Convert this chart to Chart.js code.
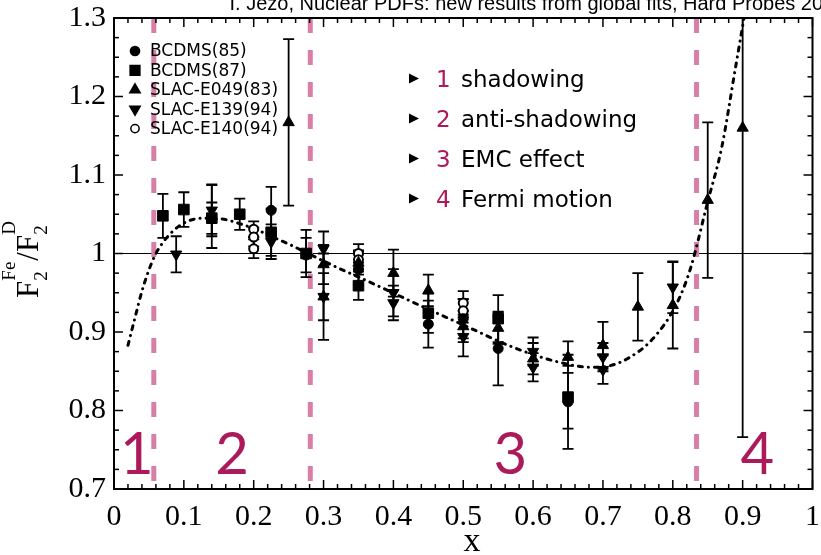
<!DOCTYPE html>
<html>
<head>
<meta charset="utf-8">
<script src="https://cdn.jsdelivr.net/npm/chart.js@4.4.1/dist/chart.umd.min.js"></script>
<style>
  html, body { margin: 0; padding: 0; background: #fff; }
  canvas { display: block; }
</style>
</head>
<body>
<canvas id="chart" width="821" height="555"></canvas>
<script>
// Iron / deuterium structure function ratio F2(Fe)/F2(D) versus x

// BCDMS (1985)
const bcdms85X   = [0.225, 0.275, 0.35, 0.45, 0.50, 0.55, 0.65];
const bcdms85Y   = [1.055, 0.998, 0.980, 0.910, 0.917, 0.879, 0.811];
const bcdms85Err = [0.030, 0.022, 0.020, 0.030, 0.025, 0.047, 0.060];

// BCDMS (1987)
const bcdms87X   = [0.07, 0.10, 0.14, 0.18, 0.225, 0.275, 0.35, 0.45, 0.55, 0.65];
const bcdms87Y   = [1.048, 1.056, 1.045, 1.050, 1.027, 1.000, 0.959, 0.924, 0.917, 0.817];
const bcdms87Err = [0.028, 0.022, 0.020, 0.020, 0.030, 0.030, 0.018, 0.025, 0.030, 0.040];

// SLAC E049 (1983)
const e049X   = [0.14, 0.25, 0.30, 0.30, 0.35, 0.40, 0.45, 0.50, 0.55, 0.60, 0.65, 0.70, 0.75, 0.80, 0.85, 0.90];
const e049Y   = [1.047, 1.167, 0.986, 0.945, 0.988, 0.975, 0.953, 0.907, 0.905, 0.866, 0.868, 0.883, 0.932, 0.934, 1.068, 1.160];
const e049Err = [0.040, 0.106, 0.025, 0.055, 0.015, 0.030, 0.020, 0.020, 0.020, 0.020, 0.020, 0.030, 0.043, 0.055, 0.099, 0.394];

// SLAC E139 (1994)
const e139X   = [0.089, 0.14, 0.225, 0.30, 0.30, 0.40, 0.40, 0.50, 0.60, 0.60, 0.70, 0.70, 0.80];
const e139Y   = [0.999, 1.055, 1.015, 1.006, 0.945, 0.950, 0.937, 0.894, 0.875, 0.855, 0.868, 0.852, 0.957];
const e139Err = [0.023, 0.033, 0.022, 0.022, 0.030, 0.030, 0.022, 0.025, 0.018, 0.018, 0.018, 0.018, 0.033];

// SLAC E140 (1994)
const e140X   = [0.20, 0.20, 0.20, 0.35, 0.35, 0.50, 0.50];
const e140Y   = [1.031, 1.021, 1.006, 1.000, 0.992, 0.937, 0.927];
const e140Err = [0.010, 0.012, 0.012, 0.012, 0.012, 0.015, 0.015];

// Fitted nuclear modification curve
const fitX = [0.020, 0.030, 0.040, 0.050, 0.060, 0.070, 0.085, 0.105, 0.130, 0.155, 0.180, 0.205, 0.230, 0.255, 0.280,
              0.320, 0.370, 0.440, 0.510, 0.570, 0.635, 0.685, 0.710, 0.735, 0.770, 0.805, 0.825, 0.850, 0.870, 0.890, 0.902];
const fitY = [0.883, 0.918, 0.952, 0.979, 1.000, 1.014, 1.029, 1.041, 1.045, 1.044, 1.038, 1.030, 1.020, 1.010, 0.999,
              0.982, 0.962, 0.933, 0.905, 0.881, 0.862, 0.855, 0.857, 0.866, 0.890, 0.935, 0.980, 1.066, 1.135, 1.238, 1.300];

// Boundaries between the x regions and their labels
const regionBounds = [0.057, 0.281, 0.834];
const regionLabels = ['1', '2', '3', '4'];
const effectNames  = ['shadowing', 'anti-shadowing', 'EMC effect', 'Fermi motion'];
const experimentNames = ['BCDMS(85)', 'BCDMS(87)', 'SLAC-E049(83)', 'SLAC-E139(94)', 'SLAC-E140(94)'];

const xTickValues = [0, 0.1, 0.2, 0.3, 0.4, 0.5, 0.6, 0.7, 0.8, 0.9, 1];
const yTickValues = [0.7, 0.8, 0.9, 1.0, 1.1, 1.2, 1.3];

const titleLead = 'I. Ježo, Nuclear PDFs: new results from global fits, ';
const titleTail = 'Hard Probes 20';

const MAGENTA = '#ad1a5c';
const PINK = '#d87ea7';

const markerStyles = [
  { pointStyle: 'circle',   radius: 5,   rotation: 0,   fill: '#000', bw: 1 },
  { pointStyle: 'rect',     radius: 7.5, rotation: 0,   fill: '#000', bw: 1 },
  { pointStyle: 'triangle', radius: 6.5, rotation: 0,   fill: '#000', bw: 1 },
  { pointStyle: 'triangle', radius: 6.5, rotation: 180, fill: '#000', bw: 1 },
  { pointStyle: 'circle',   radius: 4.5, rotation: 0,   fill: '#fff', bw: 2 }
];

const series = [
  [bcdms85X, bcdms85Y, bcdms85Err],
  [bcdms87X, bcdms87Y, bcdms87Err],
  [e049X, e049Y, e049Err],
  [e139X, e139Y, e139Err],
  [e140X, e140Y, e140Err]
];

const pts = (xs, ys) => xs.map((x, i) => ({ x: x, y: ys[i] }));

const datasets = series.map((s, k) => ({
  type: 'scatter',
  label: experimentNames[k],
  data: pts(s[0], s[1]),
  errors: s[2],
  pointStyle: markerStyles[k].pointStyle,
  pointRadius: markerStyles[k].radius,
  pointRotation: markerStyles[k].rotation,
  pointBackgroundColor: markerStyles[k].fill,
  pointBorderColor: '#000',
  pointBorderWidth: markerStyles[k].bw,
  order: 1
}));

datasets.push({
  type: 'line',
  label: 'fit',
  data: pts(fitX, fitY),
  borderColor: '#000',
  borderWidth: 3,
  borderDash: [4, 6, 0.1, 6],
  borderCapStyle: 'round',
  pointRadius: 0,
  cubicInterpolationMode: 'monotone',
  fill: false,
  order: 2
});

function line(ctx, x1, y1, x2, y2) {
  ctx.beginPath(); ctx.moveTo(x1, y1); ctx.lineTo(x2, y2); ctx.stroke();
}

// F_2^Fe / F_2^D written bottom-to-top with sub- and superscripts
function drawYTitle(ctx, cx, cy) {
  const big = '31px "Liberation Serif"';
  const small = '19px "Liberation Serif"';
  const pieces = [
    { main: 'F' }, { sub: '2', sup: 'Fe' }, { main: '/F' }, { sub: '2', sup: 'D' }
  ];
  const widths = pieces.map(p => {
    if (p.main) { ctx.font = big; return ctx.measureText(p.main).width; }
    ctx.font = small;
    return Math.max(ctx.measureText(p.sub).width, ctx.measureText(p.sup).width) + 1;
  });
  const total = widths.reduce((a, b) => a + b, 0);
  ctx.save();
  ctx.translate(cx, cy);
  ctx.rotate(-Math.PI / 2);
  ctx.fillStyle = '#000';
  ctx.textAlign = 'left';
  ctx.textBaseline = 'alphabetic';
  let x = -total / 2;
  pieces.forEach((p, i) => {
    if (p.main) { ctx.font = big; ctx.fillText(p.main, x, 0); }
    else {
      ctx.font = small;
      ctx.fillText(p.sub, x, 9);
      ctx.fillText(p.sup, x, -23);
    }
    x += widths[i];
  });
  ctx.restore();
}

const decor = {
  id: 'decor',
  beforeDatasetsDraw(chart) {
    const { ctx, chartArea: ca, scales } = chart;
    const xs = scales.x, ys = scales.y;
    ctx.save();
    ctx.beginPath(); ctx.rect(ca.left, ca.top, ca.right - ca.left, ca.bottom - ca.top); ctx.clip();
    // unity reference line
    ctx.strokeStyle = '#000'; ctx.lineWidth = 1.2;
    const y1 = ys.getPixelForValue(1);
    line(ctx, ca.left, y1, ca.right, y1);
    // region boundaries
    ctx.strokeStyle = PINK; ctx.lineWidth = 5; ctx.setLineDash([15, 17]);
    regionBounds.forEach(b => {
      const px = xs.getPixelForValue(b);
      line(ctx, px, ca.top, px, ca.bottom);
    });
    ctx.setLineDash([]);
    // error bars
    ctx.strokeStyle = '#000'; ctx.lineWidth = 1.8;
    chart.data.datasets.forEach(ds => {
      if (!ds.errors) return;
      ds.data.forEach((p, i) => {
        const e = ds.errors[i];
        const px = xs.getPixelForValue(p.x);
        const hi = ys.getPixelForValue(p.y + e);
        const lo = ys.getPixelForValue(p.y - e);
        line(ctx, px, hi, px, lo);
        line(ctx, px - 5.5, hi, px + 5.5, hi);
        line(ctx, px - 5.5, lo, px + 5.5, lo);
      });
    });
    ctx.restore();
  },
  afterDatasetsDraw(chart) {
    const { ctx, chartArea: ca, scales } = chart;
    const xs = scales.x, ys = scales.y;
    ctx.save();
    // frame
    ctx.strokeStyle = '#000'; ctx.lineWidth = 2;
    ctx.strokeRect(ca.left, ca.top, ca.right - ca.left, ca.bottom - ca.top);
    // inward ticks
    ctx.lineWidth = 1.5;
    for (let k = 0; k <= 50; k++) {
      const px = xs.getPixelForValue(k * 0.02);
      const len = k % 5 === 0 ? 9 : 5;
      line(ctx, px, ca.bottom, px, ca.bottom - len);
      line(ctx, px, ca.top, px, ca.top + len);
    }
    for (let k = 0; k <= 24; k++) {
      const py = ys.getPixelForValue(0.7 + k * 0.025);
      const len = k % 4 === 0 ? 9 : 5;
      line(ctx, ca.left, py, ca.left + len, py);
      line(ctx, ca.right, py, ca.right - len, py);
    }
    // experiment key
    ctx.font = '17px "DejaVu Sans"';
    ctx.textBaseline = 'middle';
    ctx.textAlign = 'left';
    experimentNames.forEach((name, k) => {
      const y = 51 + k * 19.4;
      const m = markerStyles[k];
      ctx.fillStyle = m.fill; ctx.strokeStyle = '#000';
      Chart.helpers.drawPoint(ctx, { pointStyle: m.pointStyle, rotation: m.rotation,
        radius: m.radius * 0.92, borderWidth: m.bw }, 135, y);
      ctx.fillStyle = '#000';
      ctx.fillText(name, 150, y + 1);
    });
    // physics effects list
    ctx.textBaseline = 'alphabetic';
    effectNames.forEach((name, k) => {
      const base = 87 + k * 40;
      ctx.fillStyle = '#000';
      ctx.beginPath();
      ctx.moveTo(409, base - 13.5); ctx.lineTo(419, base - 8.5); ctx.lineTo(409, base - 3.5); ctx.closePath();
      ctx.fill();
      ctx.font = '23px "DejaVu Sans"';
      ctx.fillStyle = MAGENTA;
      ctx.fillText(regionLabels[k], 436, base);
      ctx.fillStyle = '#000';
      ctx.fillText(name, 461, base);
    });
    // region numbers
    const regionCentres = [
      (0 + regionBounds[0]) / 2 + 0.004,
      (regionBounds[0] + regionBounds[1]) / 2,
      (regionBounds[1] + regionBounds[2]) / 2 + 0.01,
      (regionBounds[2] + 1) / 2 + 0.004
    ];
    ctx.font = '58px "Lato"';
    ctx.fillStyle = MAGENTA;
    ctx.textAlign = 'center';
    regionLabels.forEach((lab, k) => {
      ctx.fillText(lab, xs.getPixelForValue(regionCentres[k]), 474);
    });
    // axis titles
    drawYTitle(ctx, 38, 259);
    ctx.font = '34px "Liberation Serif"';
    ctx.fillStyle = '#000';
    ctx.textAlign = 'center';
    ctx.fillText('x', 472, 551);
    // header line, running off the right edge
    ctx.font = '20px "Liberation Sans"';
    ctx.textAlign = 'left';
    const lead = ctx.measureText(titleLead).width;
    ctx.fillText(titleLead + titleTail, 683 - lead, 10);
    ctx.restore();
  }
};

const noPad = s => { s.paddingLeft = 0; s.paddingRight = 0; s.paddingTop = 0; s.paddingBottom = 0; };

new Chart(document.getElementById('chart'), {
  data: { datasets: datasets },
  options: {
    responsive: false,
    animation: false,
    events: [],
    layout: { padding: { top: 18, right: 7, left: 0, bottom: 0 } },
    plugins: { legend: { display: false }, tooltip: { enabled: false } },
    scales: {
      x: {
        type: 'linear', min: 0, max: 1,
        afterBuildTicks: s => { s.ticks = xTickValues.map(v => ({ value: v })); },
        afterFit: s => { s.height = 66; noPad(s); },
        grid: { display: false, drawTicks: false },
        border: { display: false },
        ticks: {
          autoSkip: false, maxRotation: 0, padding: 10, color: '#000',
          font: { family: '"Liberation Serif"', size: 30 },
          callback: v => String(+v.toFixed(1))
        }
      },
      y: {
        type: 'linear', min: 0.7, max: 1.3,
        afterBuildTicks: s => { s.ticks = yTickValues.map(v => ({ value: v })); },
        afterFit: s => { s.width = 114; noPad(s); },
        grid: { display: false, drawTicks: false },
        border: { display: false },
        ticks: {
          autoSkip: false, padding: 8, color: '#000',
          font: { family: '"Liberation Serif"', size: 30 },
          callback: v => String(+v.toFixed(1))
        }
      }
    }
  },
  plugins: [decor]
});
</script>
</body>
</html>
